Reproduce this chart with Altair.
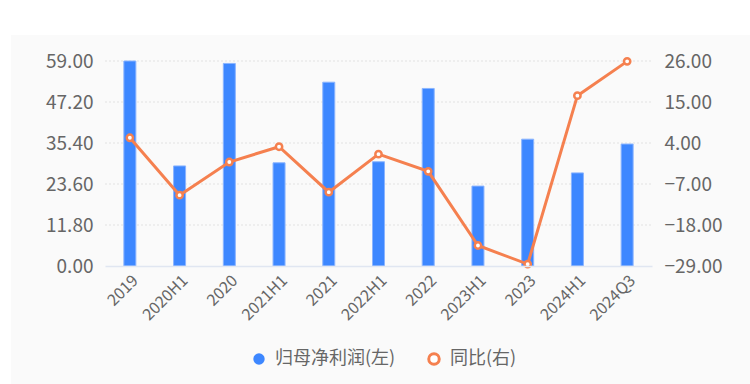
import altair as alt
import pandas as pd

periods = ["2019", "2020H1", "2020", "2021H1", "2021", "2022H1", "2022",
           "2023H1", "2023", "2024H1", "2024Q3"]
profit = [59.0, 28.8, 58.3, 29.7, 52.9, 30.0, 51.1, 23.0, 36.5, 26.8, 35.1]
yoy = [5.4, -10.0, -1.1, 3.0, -9.2, 1.0, -3.6, -23.5, -28.5, 16.7, 25.9]
left_ticks = [0.0, 11.8, 23.6, 35.4, 47.2, 59.0]
right_ticks = [-29.0, -18.0, -7.0, 4.0, 15.0, 26.0]
s_profit = "归母净利润(左)"
s_yoy = "同比(右)"

df = pd.DataFrame({"period": periods, "profit": profit, "yoy": yoy,
                   "s1": s_profit, "s2": s_yoy})
grid_df = pd.DataFrame({"g": left_ticks[1:]})

W, H = 547, 205
FONT = "Noto Sans CJK SC"
LAB = "#666666"
lscale = alt.Scale(domain=[0, 59], nice=False, zero=True)
rscale = alt.Scale(domain=[-29, 26], nice=False, zero=False)

left_axis = alt.Axis(values=left_ticks, format=".2f", labelFontSize=19,
                     labelColor=LAB, labelFont=FONT, ticks=False, domain=False,
                     labelPadding=12, grid=False, zindex=1, title=None)
right_axis = alt.Axis(orient="right", values=right_ticks, format=".2f",
                      labelFontSize=19, labelColor=LAB, labelFont=FONT,
                      ticks=False, domain=False, labelPadding=12, grid=False,
                      title=None, zindex=1)
x_axis = alt.Axis(labelAngle=-45, labelFontSize=16, labelColor=LAB,
                  labelFont=FONT, ticks=False, domain=True,
                  domainColor="#e0e6f1", domainWidth=1.5,
                  labelPadding=6, grid=False, zindex=1, title=None)
x_enc = alt.X("period:N", sort=periods, title=None,
              scale=alt.Scale(paddingInner=0, paddingOuter=0), axis=x_axis)

bg = alt.Chart(df).mark_rect(color="#fafafa").encode(
    x=alt.value(-94), x2=alt.value(W + 98), y=alt.value(-26), y2=alt.value(H + 118))

grid = alt.Chart(grid_df).mark_rule(color="#e2e2e2", strokeDash=[2, 2],
                                    strokeWidth=1).encode(
    y=alt.Y("g:Q", scale=lscale, axis=left_axis),
    x=alt.value(0), x2=alt.value(W))

bars = alt.Chart(df).mark_bar(width=12, stroke="#8ab4ff", strokeWidth=1).encode(
    x=x_enc,
    y=alt.Y("profit:Q", scale=lscale, axis=left_axis),
    fill=alt.Fill("s1:N", scale=alt.Scale(domain=[s_profit], range=["#3d87ff"]),
                  legend=alt.Legend(title=None, orient="none", legendX=145, legendY=289,
                                    symbolType="circle", symbolSize=130,
                                    labelFontSize=18, labelColor=LAB, labelFont=FONT,
                                    labelOffset=7, symbolStrokeWidth=0)),
)

left = alt.layer(grid, bars)

line = alt.Chart(df).mark_line(color="#f5804f", strokeWidth=3).encode(
    x=x_enc,
    y=alt.Y("yoy:Q", scale=rscale, axis=right_axis),
)

pts = alt.Chart(df).mark_point(filled=False, fill="#ffffff", size=40, strokeWidth=2.5,
                               opacity=1).encode(
    x=x_enc,
    y=alt.Y("yoy:Q", scale=rscale, axis=right_axis),
    stroke=alt.Stroke("s2:N", scale=alt.Scale(domain=[s_yoy], range=["#f5804f"]),
                      legend=alt.Legend(title=None, orient="none", legendX=320, legendY=289,
                                        symbolType="circle", symbolSize=110,
                                        symbolStrokeWidth=3, symbolFillColor="#fafafa",
                                        labelFontSize=18, labelColor=LAB, labelFont=FONT,
                                        labelOffset=7)),
)

right = alt.layer(line, pts)

chart = alt.layer(bg, left, right).resolve_scale(y="independent").properties(
    width=W, height=H,
    padding={"left": 105, "top": 61, "right": 98, "bottom": 118},
    autosize=alt.AutoSizeParams(type="none"),
    background="#ffffff",
).configure_view(stroke=None)

chart.save("out.html", embed_options={"renderer": "svg", "actions": False})
